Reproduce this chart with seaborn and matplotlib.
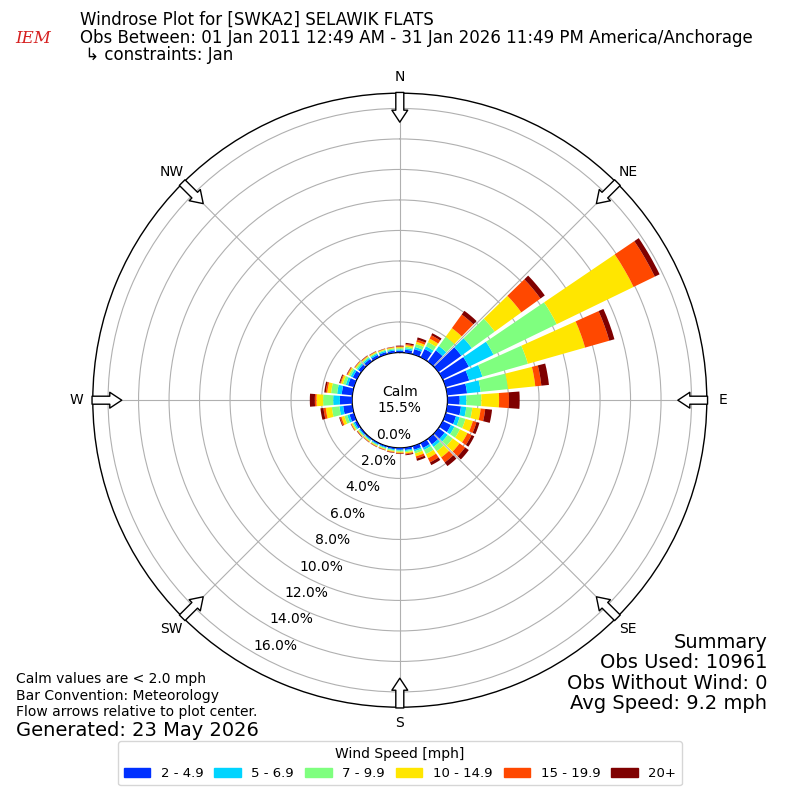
import numpy as np
import matplotlib
matplotlib.use("Agg")
import matplotlib.pyplot as plt
import matplotlib.patches as mpatches
import seaborn as sns

# direction bin centres (deg, meteorological) and frequency (%) per speed bin
directions = list(range(0, 360, 10))
speed_labels = ["2 - 4.9", "5 - 6.9", "7 - 9.9", "10 - 14.9", "15 - 19.9", "20+"]
speed_colors = ["#0030ff", "#00d4ff", "#7fff7f", "#ffe600", "#ff4800", "#7f0000"]

spd_2_5 = [0.12, 0.20, 0.35, 0.60, 0.90, 1.85, 1.90, 1.60, 1.30, 0.80, 0.90, 0.70,
           0.60, 0.50, 0.45, 0.35, 0.25, 0.15, 0.12, 0.10, 0.08, 0.08, 0.08, 0.10,
           0.15, 0.30, 0.60, 0.80, 0.70, 0.40, 0.30, 0.22, 0.20, 0.17, 0.15, 0.14]
spd_5_7 = [0.08, 0.10, 0.15, 0.20, 0.35, 0.85, 1.80, 0.90, 0.90, 0.44, 0.35, 0.25,
           0.25, 0.25, 0.20, 0.15, 0.10, 0.07, 0.06, 0.06, 0.06, 0.06, 0.06, 0.07,
           0.10, 0.15, 0.25, 0.44, 0.30, 0.15, 0.15, 0.11, 0.10, 0.10, 0.09, 0.08]
spd_7_10 = [0.08, 0.10, 0.20, 0.30, 0.75, 1.85, 4.60, 3.10, 1.80, 0.98, 0.40, 0.40,
            0.40, 0.40, 0.35, 0.30, 0.15, 0.08, 0.07, 0.06, 0.06, 0.06, 0.06, 0.07,
            0.08, 0.20, 0.50, 0.66, 0.40, 0.20, 0.13, 0.10, 0.08, 0.07, 0.07, 0.07]
spd_10_15 = [0.07, 0.10, 0.15, 0.25, 0.70, 2.15, 5.60, 3.90, 1.80, 1.16, 0.55, 0.50,
             0.55, 0.55, 0.50, 0.30, 0.20, 0.08, 0.07, 0.06, 0.05, 0.05, 0.05, 0.05,
             0.07, 0.20, 0.40, 0.43, 0.25, 0.13, 0.09, 0.07, 0.06, 0.06, 0.05, 0.06]
spd_15_20 = [0.05, 0.07, 0.15, 0.25, 1.10, 1.55, 1.55, 1.65, 0.40, 0.65, 0.30, 0.25,
             0.30, 0.45, 0.40, 0.30, 0.15, 0.06, 0.05, 0.04, 0.03, 0.03, 0.03, 0.03,
             0.03, 0.10, 0.15, 0.11, 0.10, 0.06, 0.05, 0.03, 0.03, 0.03, 0.02, 0.03]
spd_20 = [0.05, 0.08, 0.15, 0.15, 0.30, 0.35, 0.35, 0.35, 0.50, 0.70, 0.45, 0.20,
          0.20, 0.30, 0.30, 0.20, 0.15, 0.06, 0.03, 0.03, 0.02, 0.02, 0.02, 0.03,
          0.02, 0.05, 0.20, 0.33, 0.10, 0.06, 0.03, 0.02, 0.03, 0.02, 0.02, 0.02]

calm_pct = 15.5
ring_ticks = list(range(0, 17, 2))
compass = ["N", "NE", "E", "SE", "S", "SW", "W", "NW"]

sns.set_style("white")
plt.rcParams["font.family"] = ["DejaVu Sans"]
plt.rcParams["text.color"] = "black"
plt.rcParams["xtick.color"] = "black"
plt.rcParams["ytick.color"] = "black"

fig = plt.figure(figsize=(8, 8), dpi=100)
ax = fig.add_axes([0.116, 0.116, 0.7675, 0.7675], projection="polar")
ax.set_theta_zero_location("N")
ax.set_theta_direction(-1)

palette = sns.color_palette(speed_colors)
theta = np.radians(directions)
bottom = np.zeros(len(directions))
series = [spd_2_5, spd_5_7, spd_7_10, spd_10_15, spd_15_20, spd_20]
for vals, col, lab in zip(series, palette, speed_labels):
    vals = np.array(vals)
    ax.bar(theta, vals, width=np.radians(8.3), bottom=bottom, color=col,
           linewidth=0, label=lab, zorder=3)
    bottom += vals

ax.set_rorigin(-3.13)
ax.set_ylim(0, 17)
ax.set_yticks(ring_ticks)
ax.set_yticklabels(["%.1f%%" % t for t in ring_ticks], fontsize=10)
ax.set_rlabel_position(210)
ax.set_xticks(np.radians(np.arange(0, 360, 45)))
ax.set_xticklabels(compass, fontsize=10)
ax.tick_params(axis="x", pad=1)
ax.grid(True, color="#b0b0b0", linewidth=0.8)
for sp in ax.spines.values():
    sp.set_color("black")
    sp.set_linewidth(1.0)

# flow arrows at the rim
for d in range(0, 360, 45):
    ax.annotate("", xy=(np.radians(d), 15.1), xytext=(np.radians(d), 17.05),
                arrowprops=dict(arrowstyle="simple,head_length=0.72,head_width=0.95,tail_width=0.48",
                                fc="white", ec="black", lw=1, shrinkA=0, shrinkB=0,
                                mutation_scale=12),
                annotation_clip=False, zorder=5)

ax.text(0.5, 0.5, "Calm\n%.1f%%" % calm_pct, transform=ax.transAxes,
        ha="center", va="center", fontsize=10, zorder=6)

# header
fig.text(0.019, 0.952, "IEM", color="#d62020", fontsize=12, style="italic",
         family="DejaVu Serif", ha="left", va="center")
fig.text(0.1, 0.975, "Windrose Plot for [SWKA2] SELAWIK FLATS", fontsize=12, va="center")
fig.text(0.1, 0.953, "Obs Between: 01 Jan 2011 12:49 AM - 31 Jan 2026 11:49 PM America/Anchorage",
         fontsize=12, va="center")
fig.text(0.1, 0.931, " \u21b3 constraints: Jan", fontsize=12, va="center")

# footer notes
fig.text(0.02, 0.151, "Calm values are < 2.0 mph", fontsize=10, va="center")
fig.text(0.02, 0.130, "Bar Convention: Meteorology", fontsize=10, va="center")
fig.text(0.02, 0.110, "Flow arrows relative to plot center.", fontsize=10, va="center")
fig.text(0.02, 0.087, "Generated: 23 May 2026", fontsize=14, va="center")

fig.text(0.959, 0.159, "Summary\nObs Used: 10961\nObs Without Wind: 0\nAvg Speed: 9.2 mph",
         fontsize=14, ha="right", va="center", linespacing=1.1)

handles = [mpatches.Patch(color=c, label=l) for c, l in zip(palette, speed_labels)]
fig.legend(handles=handles, loc="lower center", bbox_to_anchor=(0.5, 0.01), ncol=6,
           title="Wind Speed [mph]", fontsize=9.5, title_fontsize=10, columnspacing=0.85)

fig.savefig("out.png", dpi=100)
